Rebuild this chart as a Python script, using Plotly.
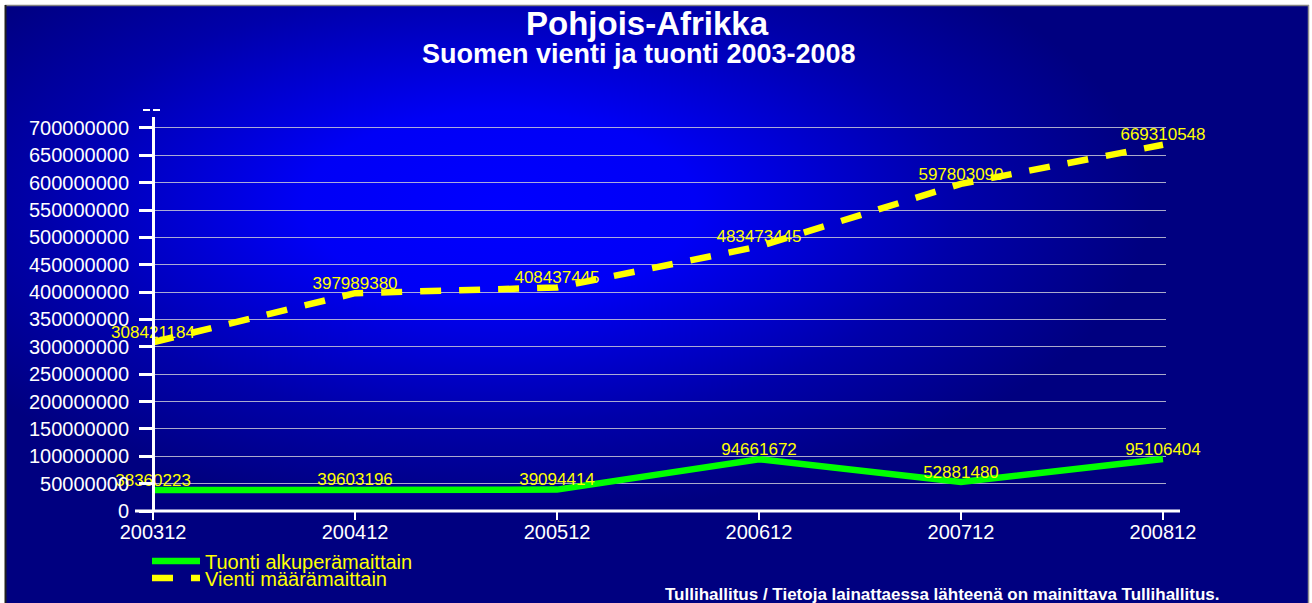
import base64
import plotly.graph_objects as go

# ---- data ----
categories = ["200312", "200412", "200512", "200612", "200712", "200812"]
tuonti = [38360223, 39603196, 39094414, 94661672, 52881480, 95106404]
vienti = [308421184, 397989380, 408437445, 483473445, 597803090, 669310548]
series_names = ["Tuonti alkuperämaittain", "Vienti määrämaittain"]
title_main = "Pohjois-Afrikka"
title_sub = "Suomen vienti ja tuonti 2003-2008"
footer = "Tullihallitus / Tietoja lainattaessa lähteenä on mainittava Tullihallitus."

# ---- geometry ----
FW, FH = 1312, 603
L, R, T, B = 150, 146, 117, 92
PW, PH = FW - L - R, FH - T - B


def px(x):
    return (x - L) / PW


def py(y):
    return (FH - B - y) / PH


FONT = "Arial, Liberation Sans, sans-serif"
YEL = "#FFFF00"

# background gradient frame as svg
svg = f"""<svg xmlns='http://www.w3.org/2000/svg' width='{FW}' height='{FH}' viewBox='0 0 {FW} {FH}'>
<defs><radialGradient id='g' gradientUnits='userSpaceOnUse' cx='500' cy='205' r='310'
 gradientTransform='translate(500 205) scale(2.1 1) translate(-500 -205)'>
<stop offset='0' stop-color='#0000ff'/><stop offset='0.3' stop-color='#0000f6'/>
<stop offset='0.7' stop-color='#0000aa'/><stop offset='1' stop-color='#000080'/></radialGradient></defs>
<rect width='{FW}' height='{FH}' fill='#ffffff'/>
<rect x='5' y='5' width='1304' height='598' fill='url(#g)'/>
<line x1='5' y1='5.5' x2='1309' y2='5.5' stroke='#808080' stroke-width='1.5'/>
<line x1='5.5' y1='5' x2='5.5' y2='603' stroke='#202020' stroke-width='2'/>
<line x1='1308.5' y1='5' x2='1308.5' y2='603' stroke='#909090' stroke-width='1.5'/>
</svg>"""
src = "data:image/svg+xml;base64," + base64.b64encode(svg.encode()).decode()

fig = go.Figure()
fig.add_trace(go.Scatter(
    x=categories, y=tuonti, name=series_names[0], mode="lines+text",
    line=dict(color="#00FF00", width=6.5),
    text=[str(v) for v in tuonti], textposition="top center",
    textfont=dict(color=YEL, size=17, family=FONT), cliponaxis=False,
    legend="legend",
))
fig.add_trace(go.Scatter(
    x=categories, y=vienti, name=series_names[1], mode="lines+text",
    line=dict(color=YEL, width=6.5, dash="21px,18px"),
    text=[str(v) for v in vienti], textposition="top center",
    textfont=dict(color=YEL, size=17, family=FONT), cliponaxis=False,
    legend="legend2",
))

legend_style = dict(font=dict(color=YEL, size=20, family=FONT), bgcolor="rgba(0,0,0,0)",
                    borderwidth=0, xanchor="left", yanchor="middle", itemwidth=48)

fig.update_layout(
    width=FW, height=FH, autosize=False,
    margin=dict(l=L, r=R, t=T, b=B, pad=0, autoexpand=False),
    paper_bgcolor="#ffffff", plot_bgcolor="rgba(0,0,0,0)",
    font=dict(family=FONT, color="white"),
    showlegend=True,
    legend=dict(x=px(147), y=py(561), **legend_style),
    legend2=dict(x=px(147), y=py(578), **legend_style),
    xaxis=dict(type="category", range=[-0.015, 5.015], showgrid=False, zeroline=False,
               showline=False, ticks="outside", ticklen=8, tickwidth=2, tickcolor="white",
               ticklabelstandoff=-5,
               tickfont=dict(size=20, color="white", family=FONT)),
    yaxis=dict(range=[0, 720e6], dtick=50e6, tick0=0, tickformat="d",
               anchor="free", position=3 / PW,
               showline=True, linecolor="white", linewidth=3,
               ticks="outside", ticklen=13, tickwidth=2.5, tickcolor="white",
               ticklabelstandoff=6,
               showgrid=True, gridcolor="rgba(200,200,215,0.85)", gridwidth=1.3,
               zeroline=False, tickfont=dict(size=20, color="white", family=FONT)),
    images=[dict(source=src, xref="paper", yref="paper", x=px(0), y=py(0),
                 sizex=FW / PW, sizey=FH / PH, xanchor="left", yanchor="top",
                 sizing="stretch", layer="below")],
    shapes=[
        dict(type="line", xref="paper", yref="paper", x0=px(135), x1=px(1180), y0=0, y1=0,
             line=dict(color="white", width=3)),
        dict(type="line", xref="paper", yref="paper", x0=px(143), x1=px(162), y0=py(110), y1=py(110),
             line=dict(color="white", width=2, dash="7px,3px")),
    ],
    annotations=[
        dict(text=f"<b>{title_main}</b>", xref="paper", yref="paper", x=px(647), y=py(23.5),
             xanchor="center", yanchor="middle", showarrow=False,
             font=dict(size=33, color="white", family=FONT)),
        dict(text=f"<b>{title_sub}</b>", xref="paper", yref="paper", x=px(639), y=py(54),
             xanchor="center", yanchor="middle", showarrow=False,
             font=dict(size=27, color="white", family=FONT)),
        dict(text=f"<b>{footer}</b>", xref="paper", yref="paper", x=px(1222), y=py(594),
             xanchor="right", yanchor="middle", showarrow=False,
             font=dict(size=17, color="white", family=FONT)),
    ],
)

fig.write_html("out.html", config={"displayModeBar": False},
               post_script="document.body.style.margin='0';document.body.style.overflow='hidden';")
